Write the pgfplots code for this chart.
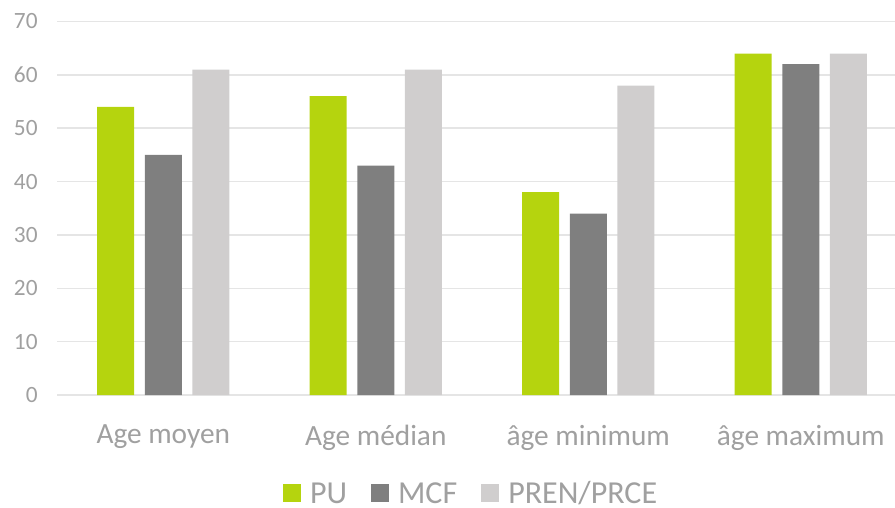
\documentclass[border=0pt]{standalone}
\usepackage{fontspec}
\setmainfont{Carlito}
\usepackage{pgfplots}
\pgfplotsset{compat=1.18}
\definecolor{cPU}{RGB}{181,212,14}
\definecolor{cMCF}{RGB}{127,127,127}
\definecolor{cPR}{RGB}{208,206,206}
\definecolor{txt}{RGB}{160,160,160}
\definecolor{grd}{RGB}{229,229,229}
\begin{document}
\begin{tikzpicture}
\useasboundingbox (0,0) rectangle (671.25pt,380.25pt);
\begin{scope}
\clip (0,0) rectangle (671.25pt,380.25pt);
\begin{axis}[
  at={(42.75pt,84pt)}, anchor=south west,
  scale only axis, width=637.5pt, height=280.125pt,
  ybar=7.9pt, bar width=27.75pt,
  xmin=-0.5, xmax=3.5, ymin=0, ymax=70,
  xtick={0,1,2,3},
  xticklabels={Age moyen, Age médian, âge minimum, âge maximum},
  ytick={0,10,...,70},
  axis line style={draw=none},
  ymajorgrids, grid style={grd, line width=1.1pt},
  major tick length=0pt,
  /pgf/number format/assume math mode=true,
  tick label style={text=txt},
  yticklabel style={font=\fontsize{17.5}{20}\selectfont, xshift=-11pt},
  xticklabel style={font=\fontsize{22}{25}\selectfont, yshift=-19pt},
  legend style={at={(axis description cs:0.486,-0.262)}, anchor=center,
    draw=none, fill=none, font=\fontsize{24}{27}\selectfont, text=txt,
    nodes={inner sep=0pt, text depth=0pt},
    legend columns=-1,
    /tikz/every odd column/.append style={column sep=6.75pt},
    /tikz/every even column/.append style={column sep=18pt}},
  legend image code/.code={\fill[#1] (0pt,-6.75pt) rectangle (13.5pt,6.75pt);},
]
\addplot[fill=cPU, draw=none] coordinates {(0,54) (1,56) (2,38) (3,64)};
\addplot[fill=cMCF, draw=none] coordinates {(0,45) (1,43) (2,34) (3,62)};
\addplot[fill=cPR, draw=none] coordinates {(0,61) (1,61) (2,58) (3,64)};
\legend{PU, MCF, PREN/PRCE}
\end{axis}
\end{scope}
\end{tikzpicture}
\end{document}
